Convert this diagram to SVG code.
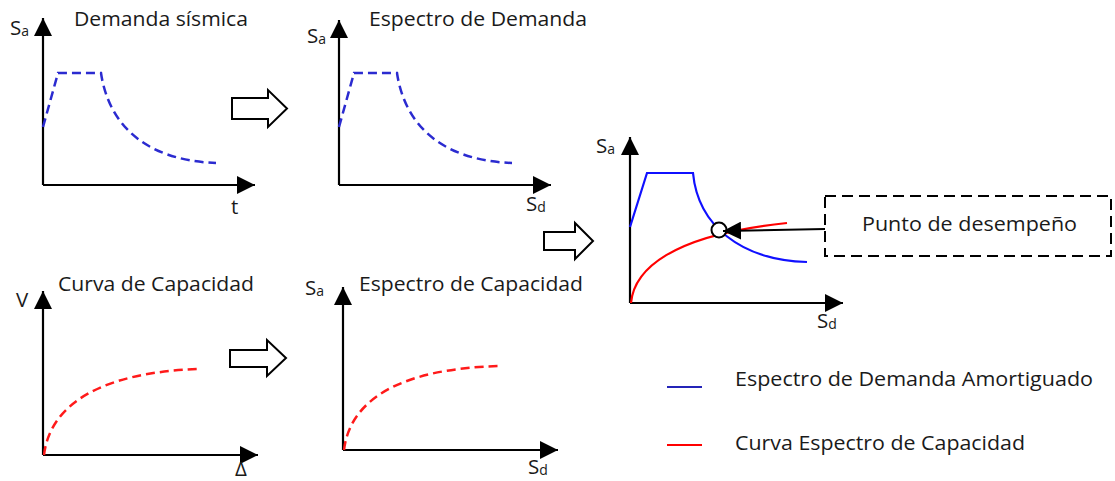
<svg xmlns="http://www.w3.org/2000/svg" width="1115" height="481" viewBox="0 0 1115 481">
<defs>
<marker id="ah" markerUnits="userSpaceOnUse" markerWidth="18" markerHeight="18" viewBox="0 0 16 16" refX="16" refY="8" orient="auto">
<path d="M0,0 L16,8 L0,16 Z" fill="#000"/>
</marker>
</defs>
<style>
text{font-family:"Open Sans","Liberation Sans",sans-serif;fill:#1a1a1a;}
.t{font-size:20.5px;}
.ax{font-size:20.5px;}
.sub{font-size:14px;}
.axis{stroke:#000;stroke-width:2.2;fill:none;marker-end:url(#ah);}
.bd{stroke:#2b2bd0;stroke-width:2.5;fill:none;stroke-dasharray:9 5;}
.rd{stroke:#ff1a1a;stroke-width:2.5;fill:none;stroke-dasharray:9 5;}
.bs{stroke:#1010ff;stroke-width:2.2;fill:none;}
.rs{stroke:#ff0000;stroke-width:2.2;fill:none;}
.hollow{fill:#fff;stroke:#000;stroke-width:2;stroke-linejoin:miter;}
</style>
<rect width="1115" height="481" fill="#fff"/>

<g id="demanda-sismica">
<text class="t" x="74" y="26" textLength="174" lengthAdjust="spacingAndGlyphs">Demanda sísmica</text>
<path class="axis" d="M43,185 V18"/>
<path class="axis" d="M43,185 H255"/>
<text class="ax" x="10" y="35">S<tspan class="sub" dy="1">a</tspan></text>
<text class="ax" x="231" y="214">t</text>
<path class="bd" d="M43,127 L58,73 H101 C108,120 140,160 216,163"/>
</g>

<g id="espectro-demanda">
<text class="t" x="369" y="26" textLength="218" lengthAdjust="spacingAndGlyphs">Espectro de Demanda</text>
<path class="axis" d="M339,185 V20"/>
<path class="axis" d="M339,185 H551"/>
<text class="ax" x="307" y="43">S<tspan class="sub" dy="1">a</tspan></text>
<text class="ax" x="526" y="211">S<tspan class="sub" dy="1">d</tspan></text>
<path class="bd" d="M339,127 L354,73 H397 C404,120 436,160 512,163"/>
</g>

<g id="curva-capacidad">
<text class="t" x="58" y="291" textLength="196" lengthAdjust="spacingAndGlyphs">Curva de Capacidad</text>
<path class="axis" d="M43,455 V291"/>
<path class="axis" d="M43,455 H258"/>
<text class="ax" x="16" y="307">V</text>
<text class="ax" x="235" y="476">Δ</text>
<path class="rd" d="M44,455 C50,405 100,372 200,369"/>
</g>

<g id="espectro-capacidad">
<text class="t" x="359" y="291" textLength="224" lengthAdjust="spacingAndGlyphs">Espectro de Capacidad</text>
<path class="axis" d="M343,450 V287"/>
<path class="axis" d="M343,450 H558"/>
<text class="ax" x="305" y="295">S<tspan class="sub" dy="1">a</tspan></text>
<text class="ax" x="528" y="474">S<tspan class="sub" dy="1">d</tspan></text>
<path class="rd" d="M344,450 C350,400 400,368 502,366"/>
</g>

<g id="grafico-desempeno">
<path class="axis" d="M630,303 V137"/>
<path class="axis" d="M630,303 H843"/>
<text class="ax" x="596" y="153">S<tspan class="sub" dy="1">a</tspan></text>
<text class="ax" x="817" y="328">S<tspan class="sub" dy="1">d</tspan></text>
<path class="bs" d="M630,227 L647,173 H693 C698,225 740,260 807,262"/>
<path class="rs" d="M631,303 C634,270 670,235 787,223"/>
<circle cx="719" cy="230" r="7.5" fill="#fff" stroke="#000" stroke-width="2"/>
</g>

<g id="punto-desempeno">
<rect x="825" y="196" width="286" height="60" fill="none" stroke="#000" stroke-width="2" stroke-dasharray="11 6"/>
<text class="t" x="862" y="231" textLength="215" lengthAdjust="spacingAndGlyphs">Punto de desempeño</text>
</g>

<g id="leyenda">
<line x1="667" y1="387" x2="702" y2="387" stroke="#2424b8" stroke-width="2.2"/>
<text class="t" x="735" y="386" textLength="358" lengthAdjust="spacingAndGlyphs">Espectro de Demanda Amortiguado</text>
<line x1="667" y1="445" x2="702" y2="445" stroke="#ff0000" stroke-width="2.2"/>
<text class="t" x="735" y="450" textLength="290" lengthAdjust="spacingAndGlyphs">Curva Espectro de Capacidad</text>
</g>

<g id="connectors">
<path class="hollow" d="M232,98 H268 V90 L287,108.5 L268,127 V119 H232 Z"/>
<path class="hollow" d="M230,350 H267 V340 L286,358 L267,376 V367 H230 Z"/>
<path class="hollow" d="M544,232 H575 V223 L593,241 L575,259 V250 H544 Z"/>
<path d="M825,229 L723,231" stroke="#000" stroke-width="2" fill="none" marker-end="url(#ah)"/>
</g>
</svg>
